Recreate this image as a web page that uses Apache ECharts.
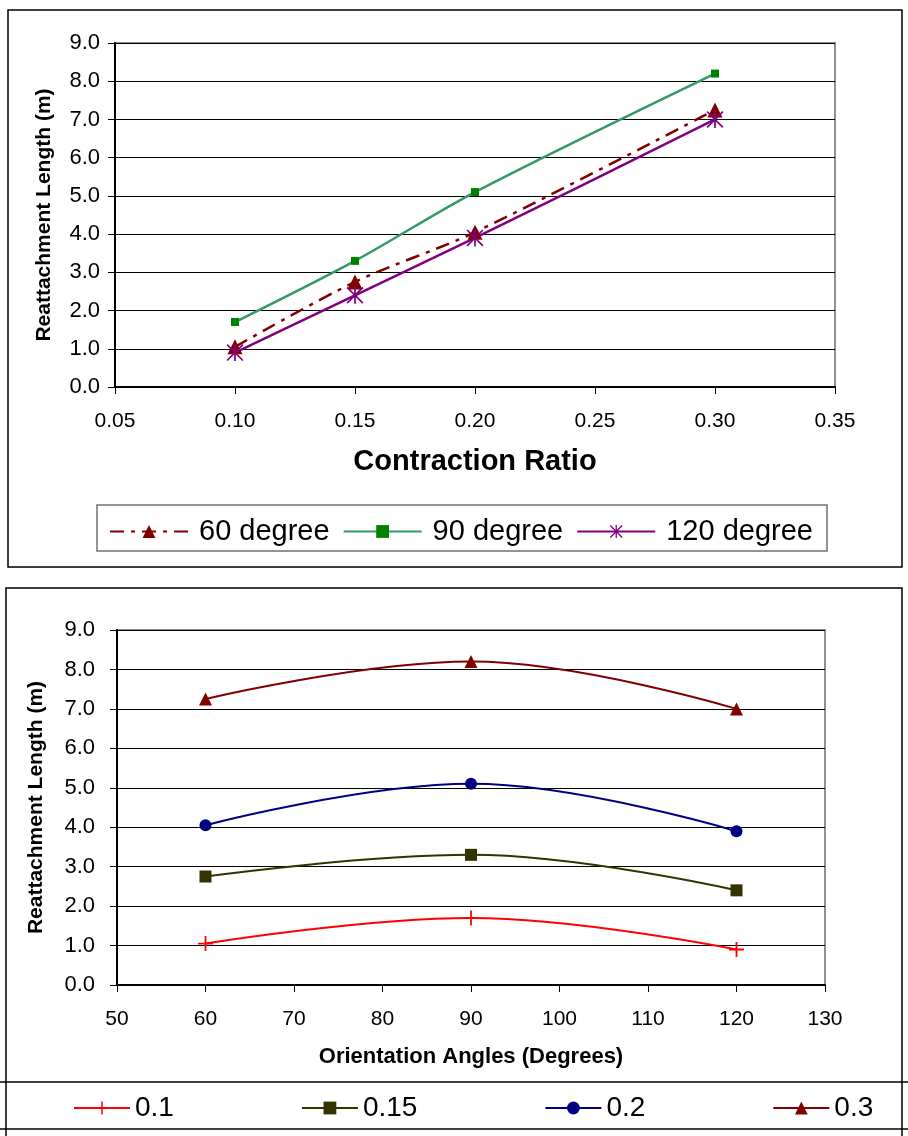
<!DOCTYPE html>
<html>
<head>
<meta charset="utf-8">
<script src="https://cdn.jsdelivr.net/npm/echarts@6/dist/echarts.min.js"></script>
<style>
  html, body { margin: 0; padding: 0; background: #fff; }
  #chart { width: 908px; height: 1136px; }
</style>
</head>
<body>
<div id="chart"></div>
<script>
// top chart: length vs contraction ratio
const ratios = [0.10, 0.15, 0.20, 0.30]
const deg60 = [1.05, 2.75, 4.05, 7.25]
const deg90 = [1.7, 3.3, 5.1, 8.2]
const deg120 = [0.9, 2.4, 3.9, 7.0]

// bottom chart: length vs orientation angle
const angles = [60, 90, 120]
const r010 = [1.05, 1.7, 0.9]
const r015 = [2.75, 3.3, 2.4]
const r020 = [4.05, 5.1, 3.9]
const r030 = [7.25, 8.2, 7.0]

const FONT = "'Liberation Sans', Arial, sans-serif"
const STAR = 'path://M9,0L11,0L11,20L9,20Z M0,1.4L1.4,0L20,18.6L18.6,20Z M18.6,0L20,1.4L1.4,20L0,18.6Z'
const PLUS = 'path://M8.8,0L11.2,0L11.2,8.8L20,8.8L20,11.2L11.2,11.2L11.2,20L8.8,20L8.8,11.2L0,11.2L0,8.8L8.8,8.8Z'

function zip(xs, ys) {
  return xs.map((x, i) => [x, ys[i]])
}

function yAxisCfg(gi, gap, margin) {
  return {
    type: 'value', gridIndex: gi, min: 0, max: 9, interval: 1,
    name: 'Reattachment Length (m)', nameLocation: 'middle', nameGap: gap,
    nameTextStyle: { fontFamily: FONT, fontWeight: 'bold', fontSize: 21, color: '#000' },
    axisLine: { show: true, lineStyle: { color: '#000', width: 2 } },
    axisTick: { show: true, length: 7, lineStyle: { color: '#000' } },
    axisLabel: { margin: margin, fontFamily: FONT, fontSize: 22, color: '#000', formatter: v => v.toFixed(1) },
    splitLine: { show: true, lineStyle: { color: '#000', width: 1 } }
  }
}

const chart = echarts.init(document.getElementById('chart'), null, { renderer: 'canvas' })

chart.setOption({
  backgroundColor: '#fff',
  animation: false,
  grid: [
    { left: 115, top: 43, width: 720, height: 344, show: true, borderColor: '#909090', borderWidth: 2 },
    { left: 117, top: 630, width: 708, height: 355, show: true, borderColor: '#909090', borderWidth: 2 }
  ],
  xAxis: [
    {
      type: 'value', gridIndex: 0, min: 0.05, max: 0.35, interval: 0.05,
      name: 'Contraction Ratio', nameLocation: 'middle', nameGap: 60,
      nameTextStyle: { fontFamily: FONT, fontWeight: 'bold', fontSize: 29, color: '#000' },
      axisLine: { lineStyle: { color: '#000', width: 2 } },
      axisTick: { length: 7, lineStyle: { color: '#000' } },
      axisLabel: { margin: 24, fontFamily: FONT, fontSize: 21, color: '#000', formatter: v => v.toFixed(2) },
      splitLine: { show: false }
    },
    {
      type: 'value', gridIndex: 1, min: 50, max: 130, interval: 10,
      name: 'Orientation Angles (Degrees)', nameLocation: 'middle', nameGap: 61,
      nameTextStyle: { fontFamily: FONT, fontWeight: 'bold', fontSize: 22, color: '#000' },
      axisLine: { lineStyle: { color: '#000', width: 2 } },
      axisTick: { length: 7, lineStyle: { color: '#000' } },
      axisLabel: { margin: 24, fontFamily: FONT, fontSize: 21, color: '#000' },
      splitLine: { show: false }
    }
  ],
  yAxis: [yAxisCfg(0, 60, 15), yAxisCfg(1, 70, 22)],
  legend: [
    {
      data: ['60 degree', '90 degree', '120 degree'],
      left: 104, top: 512, itemWidth: 78, itemHeight: 16, itemGap: 13,
      textStyle: { fontFamily: FONT, fontSize: 29, color: '#000', padding: [0, 0, 0, 6] }
    },
    {
      data: ['0.1', '0.15', '0.2', '0.3'],
      left: 68, top: 1089, itemWidth: 56, itemHeight: 16, itemGap: 127,
      textStyle: { fontFamily: FONT, fontSize: 28, color: '#000' }
    }
  ],
  series: [
    {
      name: '60 degree', type: 'line', xAxisIndex: 0, yAxisIndex: 0, smooth: 0.3,
      data: zip(ratios, deg60), symbol: 'triangle', symbolSize: 15,
      itemStyle: { color: '#800000' },
      lineStyle: { color: '#800000', width: 2.5, type: [14, 7, 4, 7] }
    },
    {
      name: '90 degree', type: 'line', xAxisIndex: 0, yAxisIndex: 0, smooth: 0.3,
      data: zip(ratios, deg90), symbol: 'rect', symbolSize: 8,
      itemStyle: { color: '#008000' },
      lineStyle: { color: '#339966', width: 2.5 }
    },
    {
      name: '120 degree', type: 'line', xAxisIndex: 0, yAxisIndex: 0, smooth: 0.3,
      data: zip(ratios, deg120), symbol: STAR, symbolSize: 17,
      itemStyle: { color: '#800080' },
      lineStyle: { color: '#800080', width: 2.5 }
    },
    {
      name: '0.1', type: 'line', xAxisIndex: 1, yAxisIndex: 1, smooth: 0.4,
      data: zip(angles, r010), symbol: PLUS, symbolSize: 15,
      itemStyle: { color: '#ff0000' },
      lineStyle: { color: '#ff0000', width: 2 }
    },
    {
      name: '0.15', type: 'line', xAxisIndex: 1, yAxisIndex: 1, smooth: 0.4,
      data: zip(angles, r015), symbol: 'rect', symbolSize: 12,
      itemStyle: { color: '#333300' },
      lineStyle: { color: '#333300', width: 2 }
    },
    {
      name: '0.2', type: 'line', xAxisIndex: 1, yAxisIndex: 1, smooth: 0.4,
      data: zip(angles, r020), symbol: 'circle', symbolSize: 12,
      itemStyle: { color: '#000080' },
      lineStyle: { color: '#000080', width: 2 }
    },
    {
      name: '0.3', type: 'line', xAxisIndex: 1, yAxisIndex: 1, smooth: 0.4,
      data: zip(angles, r030), symbol: 'triangle', symbolSize: 13,
      itemStyle: { color: '#800000' },
      lineStyle: { color: '#800000', width: 2 }
    }
  ],
  graphic: [
    { type: 'rect', shape: { x: 8, y: 10, width: 894, height: 557 }, style: { fill: 'none', stroke: '#000', lineWidth: 1.5 }, silent: true },
    { type: 'rect', shape: { x: 97, y: 505, width: 730, height: 46 }, style: { fill: 'none', stroke: '#707070', lineWidth: 1.5 }, silent: true },
    { type: 'rect', shape: { x: 6, y: 588, width: 896, height: 560 }, style: { fill: 'none', stroke: '#000', lineWidth: 1.5 }, silent: true },
    { type: 'line', shape: { x1: 0, y1: 1082, x2: 908, y2: 1082 }, style: { stroke: '#000', lineWidth: 1.5 }, silent: true },
    { type: 'line', shape: { x1: 0, y1: 1129, x2: 908, y2: 1129 }, style: { stroke: '#000', lineWidth: 1.5 }, silent: true }
  ]
})
</script>
</body>
</html>
